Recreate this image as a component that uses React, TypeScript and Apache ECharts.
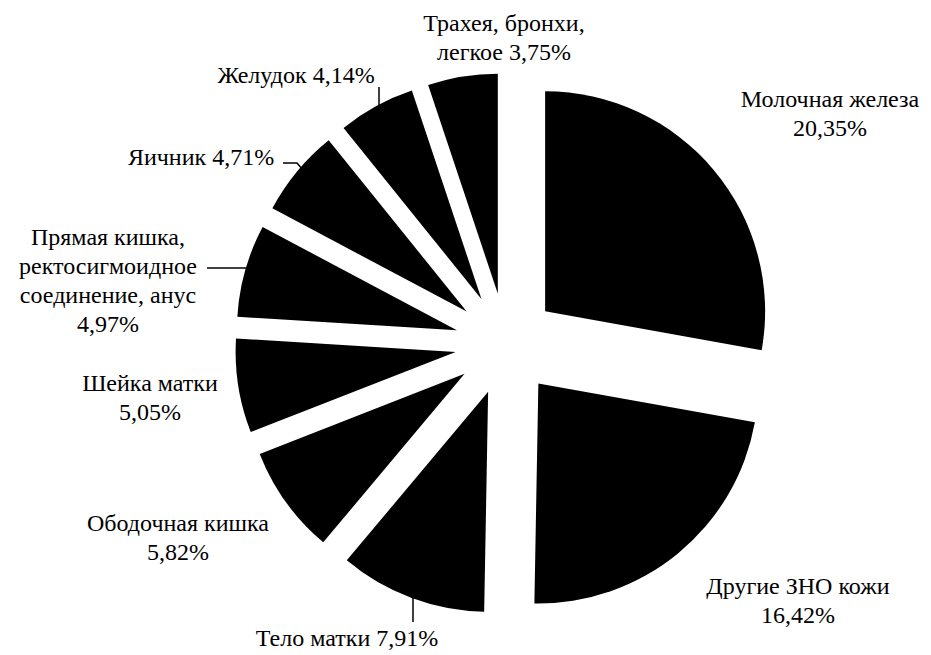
import React, { useEffect, useRef } from 'react';
import * as echarts from 'echarts';

// ---- data ----
const categories = [
  'Молочная железа',
  'Другие ЗНО кожи',
  'Тело матки',
  'Ободочная кишка',
  'Шейка матки',
  'Прямая кишка,\nректосигмоидное\nсоединение, анус',
  'Яичник',
  'Желудок',
  'Трахея, бронхи,\nлегкое',
];
const values = [20.35, 16.42, 7.91, 5.82, 5.05, 4.97, 4.71, 4.14, 3.75];
const valueSeparators = ['\n', '\n', ' ', '\n', '\n', '\n', ' ', ' ', ' '];
const hasLeader = [false, false, true, false, false, true, true, true, false];

// ---- layout (label centres and leader lines, in px) ----
const labelCenters: number[][] = [
  [830, 113],
  [798, 600],
  [347, 638],
  [178, 537],
  [150, 397],
  [108, 280],
  [201, 157],
  [296, 75],
  [504, 37],
];
const leaderPoints: (number[][] | null)[] = [
  null,
  null,
  [[413, 598], [413, 610], [413, 622]],
  null,
  null,
  [[207, 268], [228, 268], [249, 268]],
  [[283, 163], [297, 163], [303, 170]],
  [[379, 87], [379, 97], [379, 107]],
  null,
];

const FONT = "'Liberation Serif', 'Times New Roman', serif";
const CENTER = [506, 344];
const RADIUS = 220;

export default function App() {
  const ref = useRef<HTMLDivElement>(null);
  useEffect(() => {
    if (!ref.current) return;
    const chart = echarts.init(ref.current, undefined, { renderer: 'svg' });
    chart.setOption({
      animation: false,
      backgroundColor: '#fff',
      series: [
        {
          // exploded slices
          type: 'pie',
          center: CENTER,
          radius: RADIUS,
          startAngle: 90,
          clockwise: true,
          selectedMode: 'multiple',
          selectedOffset: 51,
          avoidLabelOverlap: false,
          silent: true,
          emphasis: { disabled: true },
          itemStyle: { color: '#000', borderWidth: 0 },
          select: { itemStyle: { color: '#000', borderWidth: 0 } },
          label: { show: false },
          labelLine: { show: false },
          data: categories.map((name, i) => ({ name, value: values[i], selected: true })),
        },
        {
          // labels only
          type: 'pie',
          center: CENTER,
          radius: RADIUS,
          startAngle: 90,
          clockwise: true,
          avoidLabelOverlap: false,
          silent: true,
          emphasis: { disabled: true },
          itemStyle: { color: 'rgba(0,0,0,0)', borderWidth: 0 },
          label: {
            show: true,
            position: 'outside',
            fontFamily: FONT,
            fontSize: 24,
            lineHeight: 29,
            color: '#000',
            formatter: (p: any) =>
              p.name + valueSeparators[p.dataIndex] + values[p.dataIndex].toFixed(2).replace('.', ',') + '%',
          },
          labelLine: {
            show: true,
            length: 10,
            length2: 10,
            lineStyle: { color: '#000', width: 1.5 },
          },
          labelLayout: (p: any) => {
            const i = p.dataIndex;
            const c = labelCenters[i];
            const res: any = { x: c[0], y: c[1], align: 'center', verticalAlign: 'middle' };
            if (leaderPoints[i]) res.labelLinePoints = leaderPoints[i];
            return res;
          },
          data: categories.map((name, i) => ({
            name,
            value: values[i],
            labelLine: { show: hasLeader[i] },
          })),
        },
      ],
    });
    return () => chart.dispose();
  }, []);
  return (
    <div
      ref={ref}
      style={{ position: 'fixed', left: 0, top: 0, width: 931, height: 655, background: '#fff' }}
    />
  );
}
